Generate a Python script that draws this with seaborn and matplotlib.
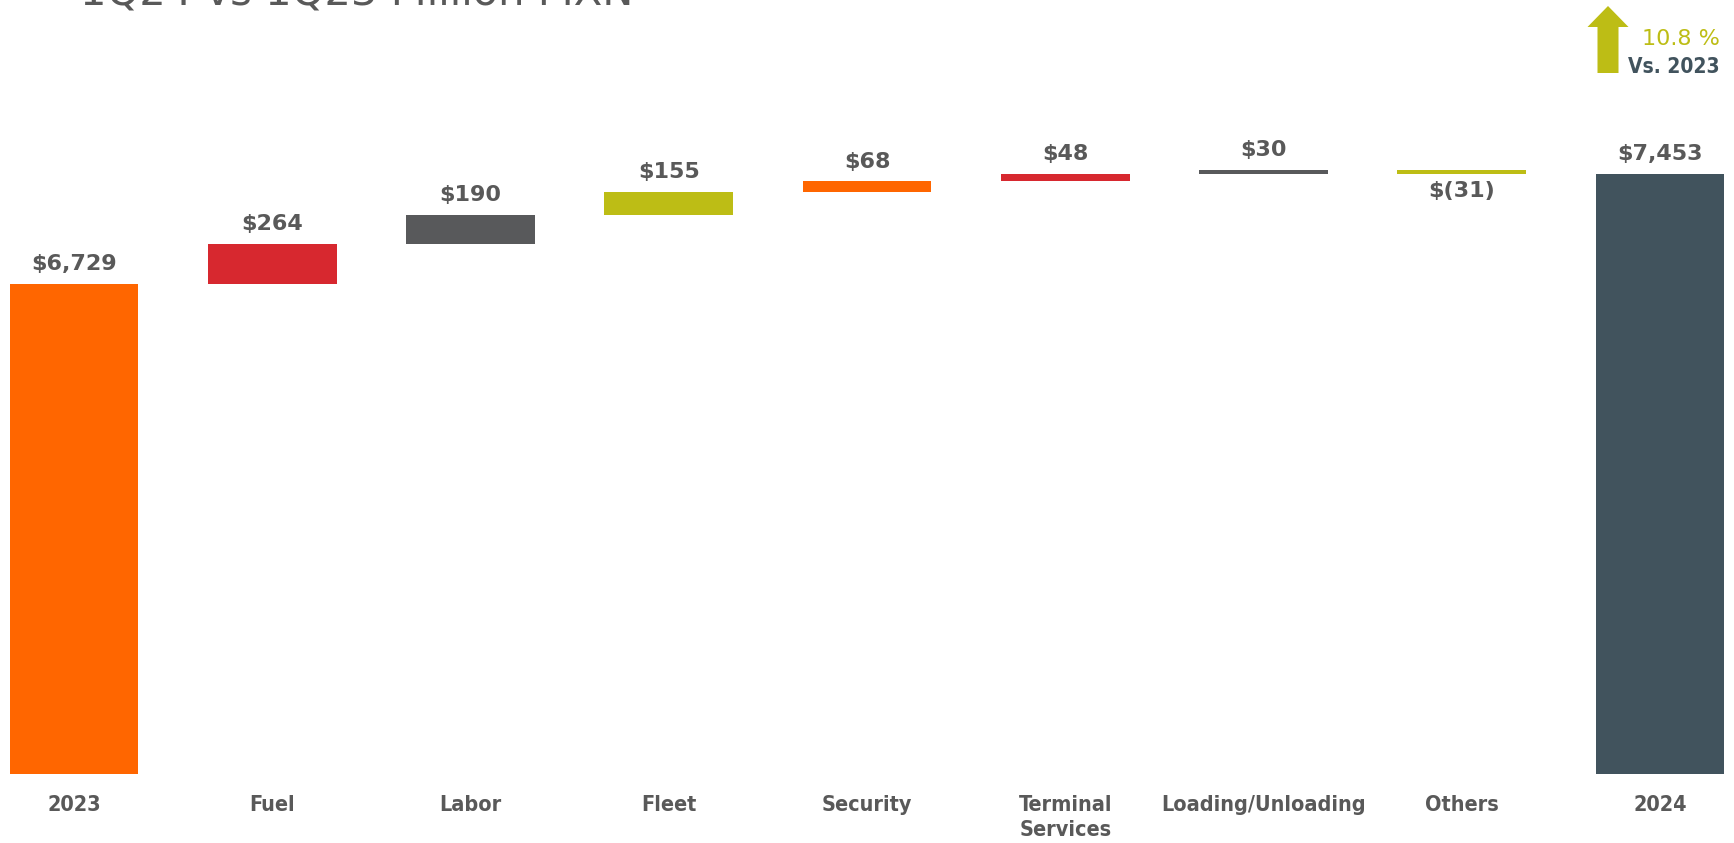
import matplotlib
matplotlib.use("Agg")
import matplotlib.pyplot as plt
from matplotlib.patches import FancyArrow
import seaborn as sns
import pandas as pd
import numpy as np

categories = ["2023", "Fuel", "Labor", "Fleet", "Security", "Terminal\nServices",
              "Loading/Unloading", "Others", "2024"]
values = [6729, 264, 190, 155, 68, 48, 30, -31, 7453]
labels = ["$6,729", "$264", "$190", "$155", "$68", "$48", "$30", "$(31)", "$7,453"]
colors = ["#FF6600", "#D7282F", "#58595B", "#BDBD15", "#FF6600", "#D7282F",
          "#58595B", "#BDBD15", "#41535D"]
title = "1Q24 vs 1Q23 Million MXN"
change_text = "10.8 %"
vs_text = "Vs. 2023"

# waterfall geometry from values
bottoms, heights = [], []
running = 0
for i, v in enumerate(values):
    if i == 0 or i == len(values) - 1:
        bottoms.append(0)
        heights.append(v)
        running = v
    else:
        bottoms.append(running if v >= 0 else running + v)
        heights.append(abs(v))
        running += v

df = pd.DataFrame({"category": categories, "height": heights})

sns.set_theme(style="white")
plt.rcParams["font.family"] = ["DejaVu Sans"]

fig = plt.figure(figsize=(17.34, 8.43), dpi=100)
ax = fig.add_axes([0, 1 - 774 / 843, 1, 774 / 843])

sns.barplot(data=df, x="category", y="height", order=categories, ax=ax,
            width=0.65, bottom=bottoms, linewidth=0, color="#888888")
for p, c in zip(ax.patches, colors):
    p.set_facecolor(c)
    p.set_edgecolor("none")

ax.set_xlim(-0.373, 8.373)
ax.set_ylim(3504, 8600)
ax.set_xlabel("")
ax.set_ylabel("")
ax.set_yticks([])
for s in ax.spines.values():
    s.set_visible(False)
ax.tick_params(axis="x", length=0, pad=15)
ax.set_xticks(range(len(categories)))
ax.set_xticklabels(categories, fontsize=15.5, fontweight="bold", color="#595959",
                   linespacing=1.35, fontstretch="condensed")

for i, (b, h, v, lab) in enumerate(zip(bottoms, heights, values, labels)):
    if v >= 0 or i in (0, len(values) - 1):
        ax.annotate(lab, (i, b + h), xytext=(0, 7), textcoords="offset points",
                    ha="center", va="bottom", fontsize=16, fontweight="bold",
                    color="#595959")
    else:
        ax.annotate(lab, (i, b), xytext=(0, -5), textcoords="offset points",
                    ha="center", va="top", fontsize=16, fontweight="bold",
                    color="#595959")

# partially visible title (cut off at the top edge, as in the reference)
fig.text(80 / 1734, 1 - 4 / 843, title, fontsize=30, color="#595959",
         ha="left", va="baseline")

# arrow + change annotation
arrow = FancyArrow(16.08, (843 - 73) / 100, 0, (73 - 6) / 100, width=0.21,
                   head_width=0.41, head_length=0.21, length_includes_head=True,
                   color="#BDBD15", linewidth=0, transform=fig.dpi_scale_trans)
fig.add_artist(arrow)
fig.text(1720 / 1734, 1 - 45 / 843, change_text, fontsize=16, color="#BDBD15",
         ha="right", va="baseline")
fig.text(1720 / 1734, 1 - 73 / 843, vs_text, fontsize=15, fontweight="bold",
         color="#41535D", ha="right", va="baseline", fontstretch="condensed")

fig.savefig("out.png", dpi=100)
